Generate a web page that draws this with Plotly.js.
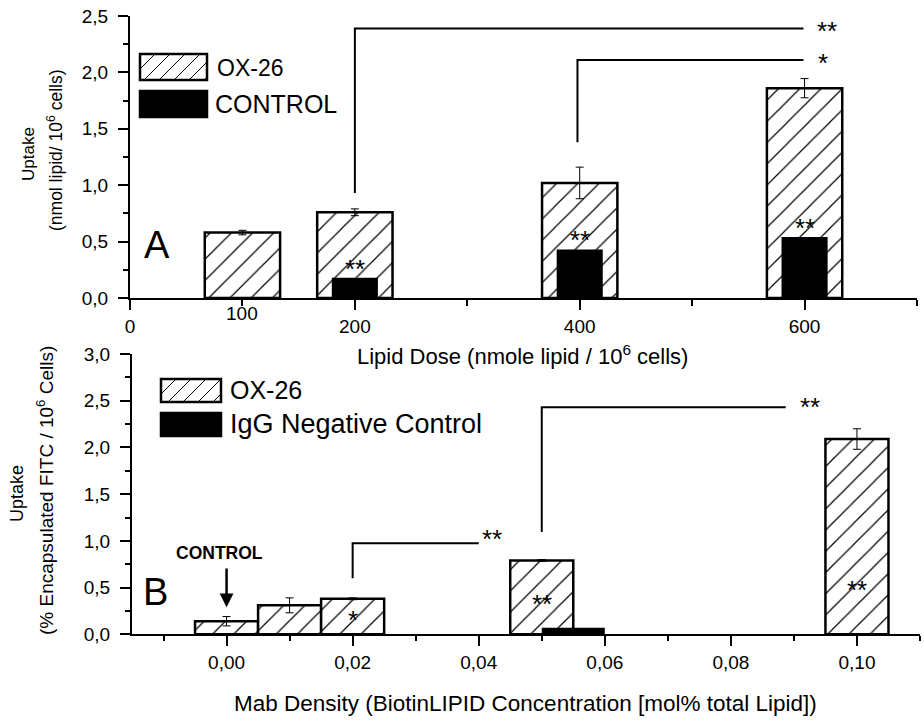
<!DOCTYPE html>
<html>
<head>
<meta charset="utf-8">
<script src="https://cdn.plot.ly/plotly-3.0.1.min.js"></script>
<style>html,body{margin:0;padding:0;background:#fff;}#chart{width:924px;height:721px;}</style>
</head>
<body>
<div id="chart"></div>
<script>
// ---------- Panel A data ----------
const dosesA = [100, 200, 400, 600];
const ox26A = [0.58, 0.76, 1.02, 1.86];
const ox26AErr = [0.02, 0.03, 0.14, 0.085];
const controlDosesA = [200, 400, 600];
const controlA = [0.18, 0.43, 0.54];
const controlAStars = ['**', '**', '**'];

// ---------- Panel B data ----------
const densitiesB = [0.00, 0.01, 0.02, 0.05, 0.10];
const ox26B = [0.14, 0.31, 0.38, 0.79, 2.09];
const ox26BErr = [0.05, 0.08, 0.01, 0.01, 0.11];
const iggDensityB = [0.05];
const iggB = [0.07];
const starsBx = [0.02, 0.05, 0.10];
const starsBy = [0.23, 0.40, 0.55];
const starsBtext = ['*', '**', '**'];

const W = 924, H = 721;
const F = 'Liberation Sans, Arial, sans-serif';
const px = x => x / W;
const py = y => 1 - y / H;

const hatch = {shape: '/', fgcolor: 'black', bgcolor: 'white', size: 15, solidity: 0.08};

const traces = [
  {type: 'bar', x: dosesA, y: ox26A, width: 67, xaxis: 'x', yaxis: 'y',
   marker: {color: 'white', pattern: hatch, line: {color: 'black', width: 2.5}},
   error_y: {type: 'data', array: ox26AErr, visible: true, color: 'black', thickness: 1, width: 4},
   showlegend: false},
  {type: 'bar', x: controlDosesA, y: controlA, width: 41, xaxis: 'x', yaxis: 'y',
   marker: {color: 'black', line: {color: 'black', width: 0}}, showlegend: false},
  {type: 'bar', x: densitiesB, y: ox26B, width: 0.01, xaxis: 'x2', yaxis: 'y2',
   marker: {color: 'white', pattern: hatch, line: {color: 'black', width: 2.5}},
   error_y: {type: 'data', array: ox26BErr, visible: true, color: 'black', thickness: 1, width: 4},
   showlegend: false},
  {type: 'bar', x: iggDensityB, y: iggB, width: 0.01, offset: 0, xaxis: 'x2', yaxis: 'y2',
   marker: {color: 'black', line: {color: 'black', width: 0}}, showlegend: false}
];

function axisStyle(extra) {
  return Object.assign({
    showline: true, linewidth: 2, linecolor: 'black', mirror: false,
    ticks: 'outside', ticklen: 10, tickwidth: 2, tickcolor: 'black',
    showgrid: false, zeroline: false, fixedrange: true,
    tickfont: {family: F, size: 19, color: 'black'}
  }, extra);
}

function hatchPath(x0, y0, x1, y1, step) {
  let d = '';
  for (let c = x0 + y0 + step; c < x1 + y1; c += step) {
    const xa = Math.max(x0, c - y1), ya = c - xa;
    const xb = Math.min(x1, c - y0), yb = c - xb;
    d += `M${px(xa)},${py(ya)}L${px(xb)},${py(yb)}`;
  }
  return d;
}

function legendBox(x0, y0, x1, y1, hatched) {
  const s = [];
  s.push({type: 'rect', xref: 'paper', yref: 'paper', x0: px(x0), x1: px(x1), y0: py(y1), y1: py(y0),
    fillcolor: hatched ? 'white' : 'black', line: {color: 'black', width: 2.5}, layer: 'above'});
  if (hatched) {
    s.push({type: 'path', xref: 'paper', yref: 'paper', path: hatchPath(x0, y0, x1, y1, 15),
      line: {color: 'black', width: 1}, layer: 'above'});
  }
  return s;
}

const bracketLine = {color: 'black', width: 2};
const shapes = [
  // Panel A brackets
  {type: 'path', xref: 'x', yref: 'y', path: `M${controlDosesA[0]},0.93L${controlDosesA[0]},2.39L599,2.39`, line: bracketLine},
  {type: 'path', xref: 'x', yref: 'y', path: `M398,1.38L398,2.11L599,2.11`, line: bracketLine},
  // Panel B brackets
  {type: 'path', xref: 'x2', yref: 'y2', path: `M${densitiesB[2]},0.60L${densitiesB[2]},0.974L0.040,0.974`, line: bracketLine},
  {type: 'path', xref: 'x2', yref: 'y2', path: `M${densitiesB[3]},1.095L${densitiesB[3]},2.43L0.0887,2.43`, line: bracketLine}
].concat(
  legendBox(140, 54, 207, 80, true),
  legendBox(140, 91, 207, 117, false),
  legendBox(161, 379, 221, 402, true),
  legendBox(161, 413, 221, 436, false)
);

const ann = [];
function txt(x, y, text, size, opts) {
  ann.push(Object.assign({xref: 'paper', yref: 'paper', x: px(x), y: py(y), text: text, showarrow: false,
    font: {family: F, size: size, color: 'black'}, xanchor: 'center', yanchor: 'middle'}, opts || {}));
}
// Panel labels
txt(157, 245, 'A', 38);
txt(155, 592, 'B', 38);
// Legend texts
txt(215, 68, 'OX-26', 23, {xanchor: 'left'});
txt(213, 104, 'CONTROL', 25, {xanchor: 'left'});
txt(228, 390, 'OX-26', 25, {xanchor: 'left'});
txt(228, 424, 'IgG Negative Control', 27, {xanchor: 'left'});
// Axis titles
txt(28, 154, 'Uptake', 17, {textangle: -90});
txt(55, 151, '(nmol lipid/ 10<sup>6</sup> cells)', 17.5, {textangle: -90});
txt(522, 355, 'Lipid Dose (nmole lipid / 10<sup>6</sup> cells)', 22);
txt(17, 494, 'Uptake', 18, {textangle: -90});
txt(45, 491, '(% Encapsulated FITC / 10<sup>6</sup> Cells)', 19, {textangle: -90});
txt(525, 703, 'Mab Density (BiotinLIPID Concentration [mol% total Lipid])', 22.5);
// "100" tick label raised
ann.push({xref: 'x', yref: 'paper', x: dosesA[0], y: py(313), text: '100', showarrow: false,
  font: {family: F, size: 19, color: 'black'}, xanchor: 'center', yanchor: 'middle'});
// Stars panel A
const starFont = {family: F, size: 26, color: 'black'};
controlDosesA.forEach((d, i) => {
  ann.push({xref: 'x', yref: 'y', x: d, y: controlA[i] + 0.08, text: controlAStars[i], showarrow: false,
    font: starFont, xanchor: 'center', yanchor: 'middle'});
});
ann.push({xref: 'x', yref: 'y', x: 620, y: 2.37, text: '**', showarrow: false, font: starFont});
ann.push({xref: 'x', yref: 'y', x: 616, y: 2.08, text: '*', showarrow: false, font: starFont});
// Stars panel B
starsBx.forEach((x, i) => {
  ann.push({xref: 'x2', yref: 'y2', x: x, y: starsBy[i] - 0.08, text: starsBtext[i], showarrow: false,
    font: starFont});
});
ann.push({xref: 'x2', yref: 'y2', x: 0.0421, y: 1.02, text: '**', showarrow: false, font: starFont});
ann.push({xref: 'x2', yref: 'y2', x: 0.0925, y: 2.43, text: '**', showarrow: false, font: starFont});
// CONTROL label with arrow (panel B)
ann.push({xref: 'x2', yref: 'y2', x: -0.0012, y: 0.87, text: '<b>CONTROL</b>', showarrow: false,
  font: {family: F, size: 17.5, color: 'black'}});
ann.push({xref: 'x2', yref: 'y2', x: densitiesB[0], y: 0.29, axref: 'x2', ayref: 'y2', ax: densitiesB[0], ay: 0.72,
  text: '', showarrow: true, arrowhead: 2, arrowsize: 1.1, arrowwidth: 2.5, arrowcolor: 'black'});

const layout = {
  width: W, height: H,
  margin: {l: 0, r: 0, t: 0, b: 0},
  paper_bgcolor: 'white', plot_bgcolor: 'white',
  separators: ',.',
  barmode: 'overlay',
  showlegend: false,
  font: {family: F, color: 'black'},
  xaxis: axisStyle({domain: [px(130), px(917)], range: [0, 700], anchor: 'y', dtick: 200, tick0: 0,
    minor: {dtick: 100, ticklen: 6, tickwidth: 2, tickcolor: 'black', ticks: 'outside'}}),
  yaxis: axisStyle({domain: [py(298), py(16)], range: [0, 2.5], anchor: 'x', dtick: 0.5, tick0: 0, tickformat: '.1f',
    ticklabelstandoff: 6,
    minor: {dtick: 0.25, ticklen: 5, tickwidth: 2, tickcolor: 'black', ticks: 'outside'}}),
  xaxis2: axisStyle({domain: [px(132), px(920)], range: [-0.015, 0.11], anchor: 'y2', dtick: 0.02, tick0: 0, tickformat: '.2f',
    minor: {dtick: 0.01, ticklen: 5, tickwidth: 2, tickcolor: 'black', ticks: 'outside'}}),
  yaxis2: axisStyle({domain: [py(634.3), py(354)], range: [0, 3], anchor: 'x2', dtick: 0.5, tick0: 0, tickformat: '.1f',
    ticklabelstandoff: 6,
    minor: {dtick: 0.25, ticklen: 5, tickwidth: 2, tickcolor: 'black', ticks: 'outside'}}),
  shapes: shapes,
  annotations: ann
};

Plotly.newPlot('chart', traces, layout, {displayModeBar: false, staticPlot: true});
</script>
</body>
</html>
